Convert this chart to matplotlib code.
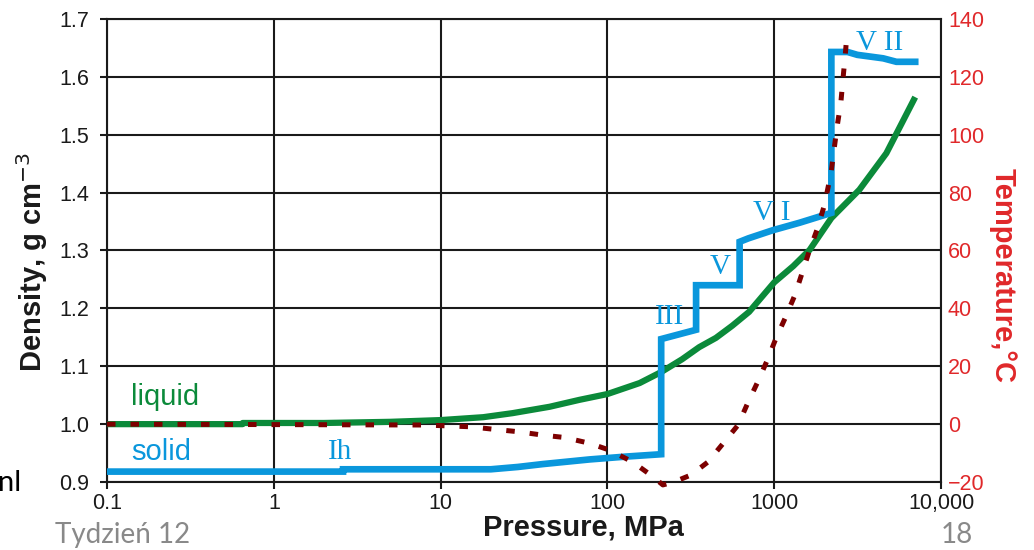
import numpy as np
import matplotlib
matplotlib.use('Agg')
import matplotlib.pyplot as plt

# pressure / density of liquid water
p_liquid = [0.1, 0.65, 0.65, 2, 5, 10, 18, 27, 45, 68, 100, 156, 210, 280, 355, 447, 560, 707, 1000, 1300, 1630,
            2200, 3240, 4700, 7000]
rho_liquid = [1.000, 1.000, 1.002, 1.002, 1.004, 1.007, 1.012, 1.019, 1.030, 1.042, 1.052, 1.071, 1.090, 1.112,
              1.133, 1.149, 1.170, 1.194, 1.245, 1.273, 1.301, 1.356, 1.405, 1.468, 1.565]

# pressure / density of ice (Ih, III, V, VI, VII)
p_solid = [0.1, 2.6, 2.6, 20, 29, 41, 78, 130, 210, 210, 340, 340, 620, 620, 700, 980, 1420, 2200, 2200,
           2750, 3150, 4500, 5400, 7000]
rho_solid = [0.918, 0.918, 0.922, 0.922, 0.926, 0.931, 0.939, 0.944, 0.948, 1.147, 1.163, 1.240, 1.240, 1.315,
             1.321, 1.335, 1.348, 1.365, 1.643, 1.643, 1.638, 1.632, 1.626, 1.626]

# melting temperature (right axis)
p_melt = [0.1, 8, 15, 21, 29, 41, 55, 78, 102, 141, 182, 215, 250, 316, 400, 490, 607, 690, 790, 910, 1020,
          1170, 1330, 1630, 1800, 2000, 2190, 2290, 2380, 2510, 2580, 2660, 2740]
t_melt = [0, -0.3, -0.9, -1.8, -2.6, -3.8, -4.6, -6.6, -8.9, -13, -17.6, -21, -20, -17.6, -13.1, -6.9, -0.3,
          7.0, 14.2, 22.2, 29.4, 37.0, 44.6, 60.2, 67.0, 75.7, 86.8, 95.4, 102.7, 111.3, 119, 127, 136]

x_ticks = [0.1, 1, 10, 100, 1000, 10000]
x_labels = ['0.1', '1', '10', '100', '1000', '10,000']
y_ticks = [0.9, 1.0, 1.1, 1.2, 1.3, 1.4, 1.5, 1.6, 1.7]
t_ticks = [-20, 0, 20, 40, 60, 80, 100, 120, 140]

phase_names = ['Ih', 'III', 'V', 'V I', 'V II']
phase_p = [2.1, 192, 410, 750, 3100]
phase_rho = [0.952, 1.185, 1.271, 1.365, 1.659]

BLUE = '#0a97dc'
GREEN = '#0b8a3a'
DARKRED = '#7d0000'
RED = '#e0282a'

plt.rcParams['font.family'] = ['Liberation Sans', 'DejaVu Sans']

fig = plt.figure(figsize=(10.34, 5.5), dpi=100)
ax = fig.add_axes([0.1035, 0.1236, 0.8066, 0.8419])

ax.plot(p_liquid, rho_liquid, color=GREEN, lw=4.5, zorder=3, solid_capstyle='butt', solid_joinstyle='round')
ax.plot(p_solid, rho_solid, color=BLUE, lw=4.8, zorder=4, solid_joinstyle='miter')

ax.set_xscale('log')
ax.set_xlim(0.1, 10000)
ax.set_ylim(0.9, 1.7)
ax.set_xticks(x_ticks)
ax.set_xticklabels(x_labels)
ax.minorticks_off()
ax.set_yticks(y_ticks)
ax.set_yticklabels(['%.1f' % v for v in y_ticks])
ax.grid(True, color='#1a1a1a', lw=1.5)
ax.set_axisbelow(True)
for s in ax.spines.values():
    s.set_color('#1a1a1a')
    s.set_linewidth(1.5)
ax.tick_params(axis='both', direction='out', length=5, width=1.5, labelsize=15.5, colors='#1a1a1a')
ax.tick_params(axis='y', pad=8)
ax.tick_params(axis='x', pad=3)

# temperature on a twin axis
ax2 = ax.twinx()
ax2.plot(p_melt, t_melt, color=DARKRED, lw=3.6, dashes=(1.7, 3.0), zorder=5, clip_on=False)
ax2.set_ylim(-20, 140)
ax2.set_yticks(t_ticks)
ax2.tick_params(axis='y', length=0, pad=5, labelsize=15.5, labelcolor=RED)
for s in ax2.spines.values():
    s.set_visible(False)

ax.text(0.14, 1.047, 'liquid', color=GREEN, fontsize=21, va='center', ha='left')
ax.text(0.14, 0.952, 'solid', color=BLUE, fontsize=21, va='center', ha='left')
for name, px, py in zip(phase_names, phase_p, phase_rho):
    ax.text(px, py, name, color=BLUE, fontsize=21, family='Liberation Serif', va='center', ha='left', zorder=6)

fig.text(0.031, 0.524, 'Density, g cm$^{-3}$', rotation=90, fontsize=21, fontweight='bold',
         ha='center', va='center', color='#1a1a1a')
fig.text(0.564, 0.040, 'Pressure, MPa', fontsize=21, fontweight='bold', ha='center', va='center', color='#1a1a1a')
fig.text(0.970, 0.5, 'Temperature,\u00b0C', rotation=270, fontsize=21, fontweight='bold',
         ha='center', va='center', color=RED)

# slide texts around the picture
fig.text(-0.002, 0.122, 'nl', fontsize=21, family='Lato', va='center', ha='left', color='black')
fig.text(0.053, 0.027, 'Tydzie\u0144 12', fontsize=20, family='Lato', va='center', ha='left', color='#898989')
fig.text(0.925, 0.027, '18', fontsize=20, family='Lato', va='center', ha='center', color='#898989')

plt.savefig('out.png', dpi=100)
plt.close()
